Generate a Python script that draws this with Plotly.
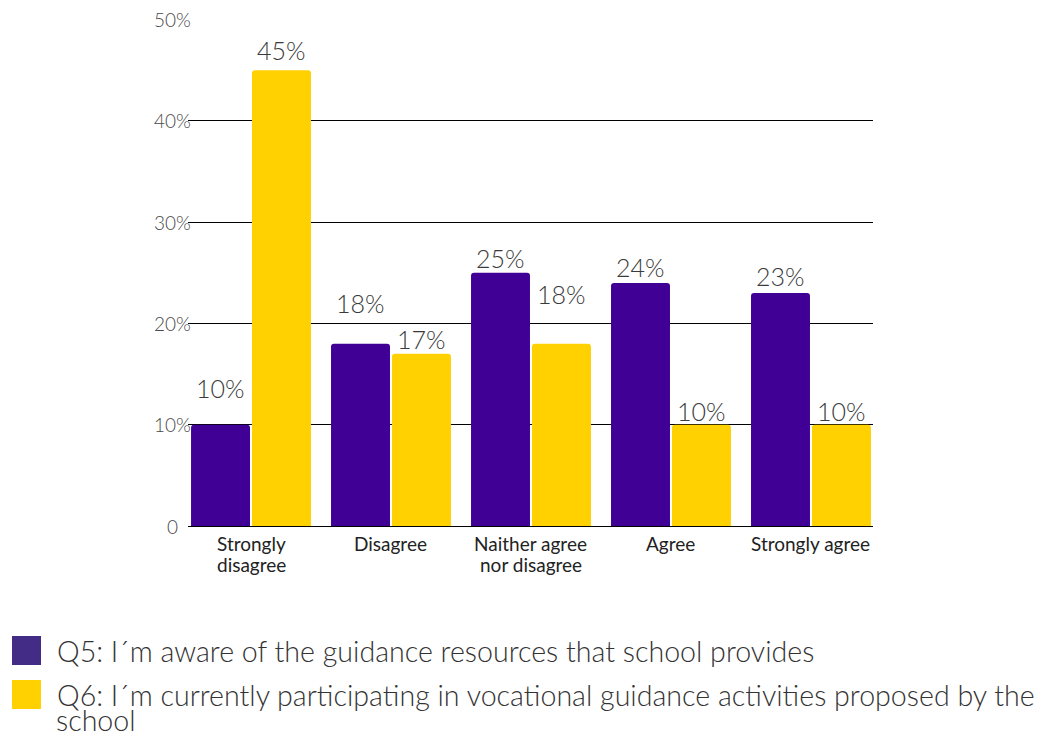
import plotly.graph_objects as go

categories = ["Strongly<br>disagree", "Disagree", "Naither agree<br>nor disagree", "Agree", "Strongly agree"]
q5_values = [10, 18, 25, 24, 23]
q6_values = [45, 17, 18, 10, 10]
series_names = [
    "Q5: I´m aware of the guidance resources that school provides",
    "Q6: I´m currently participating in vocational guidance activities proposed by the",
]
series_name_tail = "school"
y_ticks = [0, 10, 20, 30, 40, 50]
y_tick_labels = ["0", "10%", "20%", "30%", "40%", "50%"]

# how far (px) each value label sits above its bar
q5_label_lift = [37, 41, 15, 16, 17]
q6_label_lift = [20, 15, 50, 14, 14]

PURPLE = "#400096"
YELLOW = "#FFD100"
LEGEND_PURPLE = "#432C85"
FONT = "Lato"

W, H = 1043, 738
L, R, T, B = 188, 170, 19, 212
PW, PH = W - L - R, H - T - B

BARGAP = 0.129
BAR_OFFSET = (1 - BARGAP) / 4  # centre of each bar relative to its category


def px_x(px):
    return (px - L) / PW


def px_y(py):
    return 1 - (py - T) / PH


x_idx = list(range(len(categories)))

fig = go.Figure()
annotations = []
series = [
    (q5_values, PURPLE, series_names[0], -BAR_OFFSET, q5_label_lift),
    (q6_values, YELLOW, series_names[1], BAR_OFFSET, q6_label_lift),
]
for vals, color, name, off, lifts in series:
    fig.add_trace(go.Bar(
        x=x_idx, y=vals, name=name, marker=dict(color=color, line=dict(width=0)),
        showlegend=False,
    ))
    for i, v in enumerate(vals):
        annotations.append(dict(
            x=i + off, xref="x", y=v, yref="y", text=f"{v}%", showarrow=False,
            xanchor="center", yanchor="middle", yshift=lifts[i],
            font=dict(family=FONT, size=25, color="#3a3a3a", weight=300),
        ))

# category labels under the axis, one annotation per line
for i, cat in enumerate(categories):
    for j, line in enumerate(cat.split("<br>")):
        annotations.append(dict(
            x=i, xref="x", y=px_y(543 + 21 * j), yref="paper", text=line,
            showarrow=False, xanchor="center", yanchor="middle",
            font=dict(family=FONT, size=19, color="#222222"),
        ))

# y tick labels, centred left of the plot
for v, lab in zip(y_ticks, y_tick_labels):
    annotations.append(dict(
        x=px_x(172), xref="paper", y=v, yref="y", text=lab, showarrow=False,
        xanchor="center", yanchor="middle",
        font=dict(family=FONT, size=19, color="#4a4a4a", weight=300),
    ))

# legend drawn as swatches plus text
shapes = []
legend_rows = [(636, LEGEND_PURPLE, series_names[0]), (680, YELLOW, series_names[1])]
for top, color, label in legend_rows:
    shapes.append(dict(
        type="rect", xref="paper", yref="paper",
        x0=px_x(12), x1=px_x(41), y0=px_y(top + 29), y1=px_y(top),
        fillcolor=color, line=dict(width=0),
    ))
    annotations.append(dict(
        x=px_x(55), xref="paper", y=px_y(top + 15), yref="paper", text=label,
        showarrow=False, xanchor="left", yanchor="middle",
        font=dict(family=FONT, size=28.6, color="#333333", weight=300),
    ))
annotations.append(dict(
    x=px_x(55), xref="paper", y=px_y(H), yref="paper", text=series_name_tail,
    showarrow=False, xanchor="left", yanchor="bottom", borderpad=0,
    font=dict(family=FONT, size=28.6, color="#333333", weight=300),
))

fig.update_layout(
    width=W, height=H,
    margin=dict(l=L, r=R, t=T, b=B),
    paper_bgcolor="white", plot_bgcolor="white",
    barmode="group", bargap=BARGAP, bargroupgap=0.033,
    barcornerradius=3,
    shapes=shapes, annotations=annotations,
    showlegend=False,
    xaxis=dict(
        range=[-0.45, 4.443], tickmode="array", tickvals=x_idx, showticklabels=False,
        showgrid=False, zeroline=False, showline=False, ticks="",
    ),
    yaxis=dict(
        range=[0, 50.05], tickmode="array", tickvals=y_ticks, showticklabels=False,
        showgrid=True, gridcolor="black", gridwidth=1,
        zeroline=True, zerolinecolor="black", zerolinewidth=1,
        showline=False, ticks="",
    ),
)

fig.write_html("out.html")
